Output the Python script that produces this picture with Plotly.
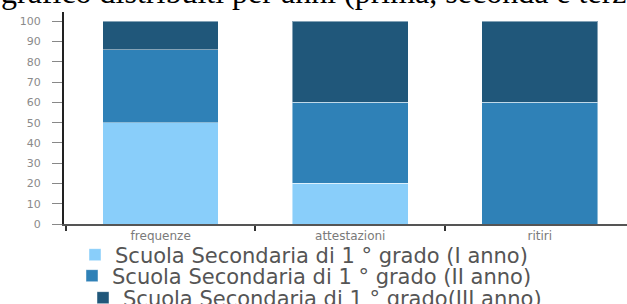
import plotly.graph_objects as go

categories = ["frequenze", "attestazioni", "ritiri"]
series_names = [
    "Scuola Secondaria di 1 ° grado (I anno)",
    "Scuola Secondaria di 1 ° grado (II anno)",
    "Scuola Secondaria di 1 ° grado(III anno)",
]
anno1 = [50, 20, 0]
anno2 = [36, 40, 60]
anno3 = [14, 40, 40]
y_ticks = [0, 10, 20, 30, 40, 50, 60, 70, 80, 90, 100]
title_text = "grafico distribuiti per anni (prima, seconda e terza"

colors = ["#89CEFA", "#2F81B7", "#20577A"]
values = [anno1, anno2, anno3]
legends = ["legend", "legend2", "legend3"]

W, H = 627, 304
fig = go.Figure()
for name, vals, col, lg in zip(series_names, values, colors, legends):
    fig.add_trace(go.Bar(
        x=categories, y=vals, name=name, legend=lg,
        marker=dict(color=col, line=dict(color="rgba(255,255,255,0.45)", width=1)),
    ))

leg_font = dict(family="DejaVu Sans", size=21, color="#555555")
def leg(xpx, ypx):
    return dict(x=xpx / W, y=1 - ypx / H, xref="container", yref="container",
                xanchor="left", yanchor="middle", font=leg_font,
                bgcolor="rgba(0,0,0,0)", borderwidth=0)

fig.update_layout(
    width=W, height=H,
    margin=dict(l=64, r=0, t=12, b=80, autoexpand=False),
    barmode="stack", bargap=0.39,
    paper_bgcolor="white", plot_bgcolor="white",
    showlegend=True,
    legend=leg(75, 255),
    legend2=leg(72, 276),
    legend3=leg(83, 298),
    xaxis=dict(
        type="category", range=[-0.51, 2.46],
        showline=True, linecolor="#555555", linewidth=1.5,
        ticks="outside", tickson="boundaries", ticklen=5, tickcolor="#333333", tickwidth=1.5,
        tickfont=dict(family="DejaVu Sans", size=12, color="#7a7a7a"),
        tickangle=0,
        showgrid=False, zeroline=False,
    ),
    yaxis=dict(
        range=[0, 104.6], tickvals=y_ticks,
        showline=True, linecolor="#222222", linewidth=2,
        ticks="outside", ticklen=10, tickcolor="#888888", tickwidth=1,
        ticklabelstandoff=9,
        tickfont=dict(family="DejaVu Sans", size=11, color="#8a8a8a"),
        showgrid=False, zeroline=False,
    ),
    annotations=[dict(
        text=title_text, xref="paper", yref="paper",
        x=-65 / 563, y=1 + (12 - 12) / 212, xanchor="left", yanchor="bottom",
        showarrow=False,
        font=dict(family="Liberation Serif", size=32, color="#000000"),
    )],
)

fig.write_html(
    "out.html",
    config={"displayModeBar": False},
    post_script="document.body.style.margin='0';document.body.style.overflow='hidden';",
)
